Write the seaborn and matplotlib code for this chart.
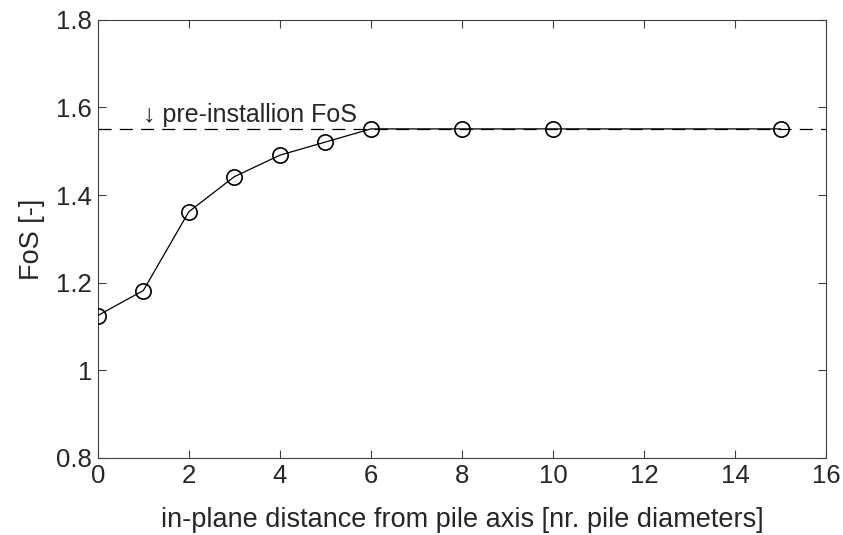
import matplotlib
matplotlib.use("Agg")
import matplotlib.pyplot as plt
import seaborn as sns
import pandas as pd

distance = [0, 1, 2, 3, 4, 5, 6, 8, 10, 15]
fos = [1.125, 1.182, 1.362, 1.442, 1.491, 1.521, 1.551, 1.551, 1.551, 1.551]
pre_installation_fos = 1.551
x_ticks = [0, 2, 4, 6, 8, 10, 12, 14, 16]
y_ticks = [0.8, 1.0, 1.2, 1.4, 1.6, 1.8]
y_tick_labels = ["0.8", "1", "1.2", "1.4", "1.6", "1.8"]

sns.set_style("ticks")
plt.rcParams['font.family'] = ['Liberation Sans', 'DejaVu Sans']

df = pd.DataFrame({"distance": distance, "fos": fos})

fig = plt.figure(figsize=(8.43, 5.35), dpi=100)
ax = fig.add_axes([0.116, 0.144, 0.864, 0.819])

ax.axhline(pre_installation_fos, color="black", linestyle=(0, (10.5, 6.5)), linewidth=0.9, zorder=1)
sns.lineplot(data=df, x="distance", y="fos", ax=ax, color="black", linewidth=0.9,
             marker="o", markersize=11, markerfacecolor="none", markeredgecolor="black",
             markeredgewidth=1.2, zorder=3)

ax.text(1.0, 1.556, "\u2193 pre-installion FoS", fontsize=18, color="#262626", va="bottom", ha="left")

ax.set_xlim(0, 16)
ax.set_ylim(0.8, 1.8)
ax.set_xticks(x_ticks)
ax.set_yticks(y_ticks)
ax.set_yticklabels(y_tick_labels)
ax.set_xlabel("in-plane distance from pile axis [nr. pile diameters]", fontsize=19.5, color="#262626", labelpad=14)
ax.set_ylabel("FoS [-]", fontsize=19.5, color="#262626", labelpad=8)

for s in ax.spines.values():
    s.set_visible(True)
    s.set_color("#404040")
    s.set_linewidth(0.8)
ax.tick_params(direction="in", top=True, right=True, length=6, width=0.8, color="#404040",
               labelsize=18.5, labelcolor="#262626", pad=4)

fig.savefig("out.png", dpi=100)
